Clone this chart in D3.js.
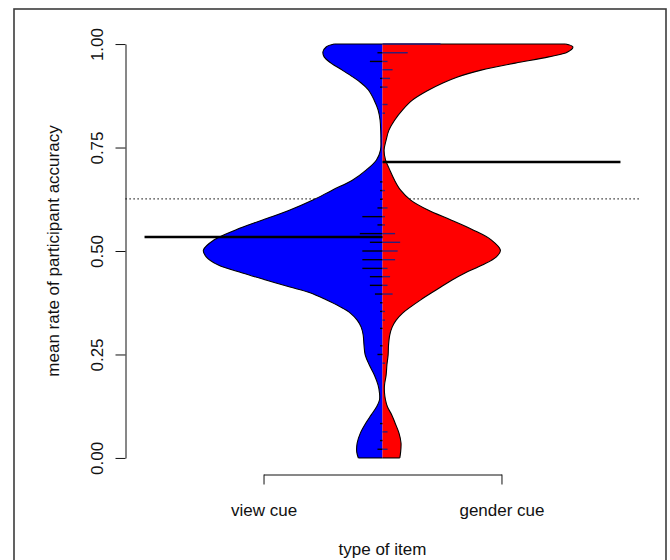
<!DOCTYPE html>
<html>
<head>
<meta charset="utf-8">
<script src="https://cdn.jsdelivr.net/npm/d3@7"></script>
<style>
  html, body { margin: 0; padding: 0; background: #fff; }
  svg text { font-family: "Liberation Sans", Arial, Helvetica, sans-serif; fill: #111; }
</style>
</head>
<body>
<svg id="chart" width="670" height="560"></svg>
<script>
// Groups drawn as the two halves of a split bean
const groups = ["view cue", "gender cue"];
const groupPositions = [0.75, 1.25];

// Estimated density profiles (rate of accuracy -> density) for each half
const densityLevels = [1.000, 0.993, 0.981, 0.969, 0.954, 0.937, 0.920, 0.906, 0.889, 0.865,
  0.841, 0.816, 0.792, 0.768, 0.744, 0.720, 0.696, 0.671, 0.647, 0.623,
  0.599, 0.575, 0.551, 0.527, 0.502, 0.486, 0.466, 0.447, 0.430, 0.413,
  0.399, 0.382, 0.365, 0.350, 0.333, 0.316, 0.297, 0.273, 0.249, 0.225,
  0.200, 0.176, 0.157, 0.140, 0.123, 0.104, 0.085, 0.060, 0.036, 0.014, 0.000];
const viewDensity = [1.20, 1.40, 1.48, 1.45, 1.28, 1.00, 0.73, 0.53, 0.35, 0.21,
  0.11, 0.06, 0.045, 0.04, 0.05, 0.15, 0.40, 0.75, 1.25, 1.73,
  2.30, 2.98, 3.65, 4.18, 4.45, 4.38, 4.08, 3.48, 2.90, 2.30,
  1.80, 1.40, 1.05, 0.80, 0.63, 0.53, 0.48, 0.46, 0.43, 0.33,
  0.20, 0.11, 0.075, 0.075, 0.15, 0.28, 0.41, 0.55, 0.63, 0.64, 0.60];
const genderDensity = [4.55, 4.73, 4.60, 4.13, 3.30, 2.45, 1.85, 1.50, 1.15, 0.75,
  0.50, 0.30, 0.16, 0.09, 0.04, 0.075, 0.18, 0.30, 0.45, 0.70,
  1.13, 1.70, 2.25, 2.70, 2.93, 2.83, 2.48, 2.05, 1.73, 1.45,
  1.22, 0.95, 0.70, 0.50, 0.34, 0.24, 0.18, 0.15, 0.14, 0.11,
  0.09, 0.05, 0.05, 0.075, 0.125, 0.23, 0.31, 0.41, 0.46, 0.45, 0.43];

// Observed item accuracy rates and how many items share each rate
const lineRates = [1.000, 0.979, 0.958, 0.938, 0.917, 0.896, 0.854, 0.833, 0.667, 0.646,
  0.625, 0.604, 0.583, 0.563, 0.542, 0.521, 0.500, 0.479, 0.458, 0.438,
  0.417, 0.396, 0.375, 0.354, 0.333, 0.313, 0.271, 0.250, 0.229, 0.083,
  0.063, 0.042, 0.021];
const viewCounts = [0, 2, 5, 0, 1, 1, 0, 0, 1, 1, 1, 2, 8, 2, 9, 5, 8, 8, 8, 5, 5, 3, 1, 1, 0, 1, 1, 2, 0, 1, 0, 1, 2];
const genderCounts = [23, 10, 2, 4, 3, 2, 2, 1, 0, 1, 0, 2, 1, 1, 5, 7, 6, 5, 2, 3, 2, 4, 0, 1, 1, 0, 0, 0, 1, 0, 2, 0, 2];

// Group means and the overall mean
const groupMeans = [0.534, 0.715];
const overallMean = 0.626;

const yTicks = [0, 0.25, 0.5, 0.75, 1];

const svg = d3.select("#chart");
const x = d3.scaleLinear().domain([0.46, 1.54]).range([125.5, 639.5]);
const y = d3.scaleLinear().domain([-0.04, 1.04]).range([474.5, 27.5]);
const cx = x(1);

const maxDensity = d3.max(viewDensity.concat(genderDensity));
const hw = d3.scaleLinear().domain([0, maxDensity]).range([0, x(1.4) - x(1)]);
const lineUnit = x(1.0053) - x(1);
const curve = d3.curveCatmullRom.alpha(0.5);

// outer figure box
svg.append("rect").attr("x", 14).attr("y", 9).attr("width", 652).attr("height", 620)
  .attr("fill", "none").attr("stroke", "#3c3c3c").attr("stroke-width", 1.6);

// overall mean, dotted, under the bean
svg.append("line")
  .attr("x1", x(0.46)).attr("x2", x(1.54))
  .attr("y1", y(overallMean)).attr("y2", y(overallMean))
  .attr("stroke", "#000").attr("stroke-width", 1.2).attr("stroke-dasharray", "1.2,2.8");

const profile = (dens) => densityLevels.map((v, i) => ({ v, d: dens[i] }));
const halves = [
  { data: profile(viewDensity), dir: -1, fill: "#0000ff" },
  { data: profile(genderDensity), dir: 1, fill: "#ff0000" }
];

halves.forEach(h => {
  const area = d3.area()
    .curve(curve)
    .y(d => y(d.v))
    .x0(cx)
    .x1(d => cx + h.dir * hw(d.d));
  svg.append("path").datum(h.data).attr("d", area).attr("fill", h.fill).attr("stroke", "none");

  const edge = d3.line().curve(curve)
    .y(d => y(d.v)).x(d => cx + h.dir * hw(d.d));
  const top = h.data[0], bottom = h.data[h.data.length - 1];
  const g = svg.append("g").attr("fill", "none").attr("stroke", "#000").attr("stroke-width", 1.1);
  g.append("path").datum(h.data).attr("d", edge);
  g.append("line").attr("x1", cx).attr("x2", cx + h.dir * hw(top.d))
    .attr("y1", y(top.v)).attr("y2", y(top.v));
  g.append("line").attr("x1", cx).attr("x2", cx + h.dir * hw(bottom.d))
    .attr("y1", y(bottom.v)).attr("y2", y(bottom.v));
});

// bean lines: one per observed rate, length proportional to the number of items
const beanLines = svg.append("g").attr("stroke-width", 1.4);
lineRates.forEach((r, i) => {
  if (viewCounts[i] > 0) {
    beanLines.append("line")
      .attr("x1", cx - viewCounts[i] * lineUnit).attr("x2", cx)
      .attr("y1", y(r)).attr("y2", y(r)).attr("stroke", "#000");
  }
  if (genderCounts[i] > 0) {
    beanLines.append("line")
      .attr("x1", cx).attr("x2", cx + genderCounts[i] * lineUnit)
      .attr("y1", y(r)).attr("y2", y(r)).attr("stroke", "#2a1f7a");
  }
});

// group means
svg.append("line").attr("x1", x(0.5)).attr("x2", cx)
  .attr("y1", y(groupMeans[0])).attr("y2", y(groupMeans[0]))
  .attr("stroke", "#000").attr("stroke-width", 2.6);
svg.append("line").attr("x1", cx).attr("x2", x(1.5))
  .attr("y1", y(groupMeans[1])).attr("y2", y(groupMeans[1]))
  .attr("stroke", "#000").attr("stroke-width", 2.6);

// y axis
const yAxisScale = y.copy().domain([0, 1]).range([y(0), y(1)]);
const yAxis = svg.append("g").attr("transform", `translate(${x(0.46)},0)`)
  .call(d3.axisLeft(yAxisScale).tickValues(yTicks).tickSize(10).tickSizeOuter(0)
    .tickFormat(d3.format(".2f")));
yAxis.select(".domain").attr("stroke", "#111");
yAxis.selectAll(".tick line").attr("stroke", "#111");
yAxis.selectAll(".tick text")
  .attr("font-size", 17).attr("x", 0).attr("dy", 0)
  .attr("text-anchor", "middle")
  .attr("transform", "translate(-23,0) rotate(-90)");

// x axis
const xAxisScale = x.copy().domain(groupPositions).range([x(0.75), x(1.25)]);
const xAxis = svg.append("g").attr("transform", `translate(0,${y(-0.04)})`)
  .call(d3.axisBottom(xAxisScale).tickValues(groupPositions).tickSize(10).tickSizeOuter(0)
    .tickFormat((d, i) => groups[i]));
xAxis.select(".domain").attr("stroke", "#111");
xAxis.selectAll(".tick line").attr("stroke", "#111");
xAxis.selectAll(".tick text").attr("font-size", 17).attr("y", 41).attr("dy", 0);

// axis titles
svg.append("text").attr("x", (x(0.46) + x(1.54)) / 2).attr("y", 555)
  .attr("text-anchor", "middle").attr("font-size", 17).text("type of item");
svg.append("text")
  .attr("transform", `translate(59,${(y(-0.04) + y(1.04)) / 2}) rotate(-90)`)
  .attr("text-anchor", "middle").attr("font-size", 17)
  .text("mean rate of participant accuracy");
</script>
</body>
</html>
